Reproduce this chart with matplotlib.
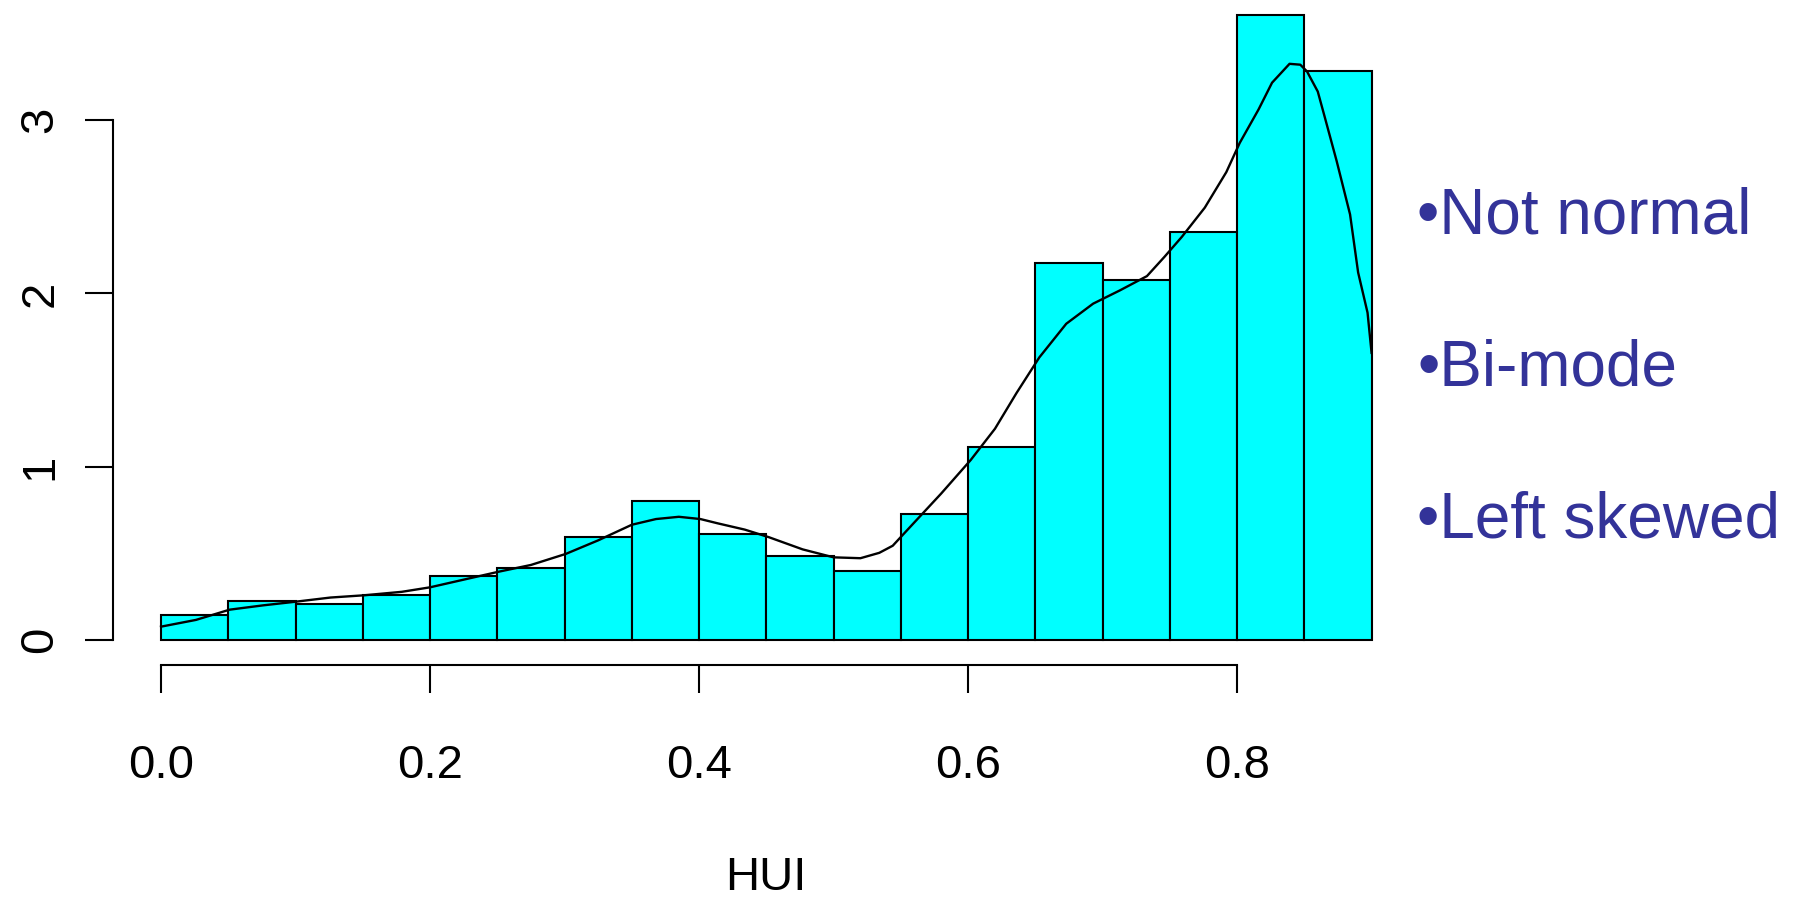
import numpy as np
import matplotlib.pyplot as plt

plt.rcParams['font.family'] = ['Liberation Sans', 'DejaVu Sans']

# histogram of HUI scores (density scale), bins of width 0.05
bin_edges = np.round(np.arange(0.0, 0.90001, 0.05), 2)
bin_density = [0.142, 0.224, 0.209, 0.260, 0.369, 0.415, 0.593, 0.800, 0.611,
               0.482, 0.400, 0.729, 1.116, 2.178, 2.075, 2.353, 3.608, 3.281]

# kernel density estimate laid over the bars
dens_x = [0.000, 0.026, 0.051, 0.076, 0.099, 0.126, 0.151, 0.179, 0.200, 0.226,
          0.251, 0.275, 0.301, 0.325, 0.350, 0.368, 0.385, 0.401, 0.414, 0.434,
          0.452, 0.477, 0.500, 0.520, 0.534, 0.544, 0.560, 0.580, 0.602, 0.620,
          0.636, 0.653, 0.673, 0.693, 0.713, 0.733, 0.746, 0.759, 0.776, 0.792,
          0.802, 0.816, 0.826, 0.839, 0.847, 0.852, 0.860, 0.865, 0.874, 0.884,
          0.890, 0.897, 0.900]
dens_y = [0.077, 0.116, 0.175, 0.200, 0.220, 0.245, 0.258, 0.278, 0.304, 0.350,
          0.394, 0.433, 0.497, 0.575, 0.665, 0.698, 0.711, 0.698, 0.673, 0.637,
          0.593, 0.523, 0.477, 0.472, 0.503, 0.544, 0.678, 0.845, 1.039, 1.219,
          1.425, 1.631, 1.825, 1.941, 2.018, 2.100, 2.211, 2.327, 2.495, 2.700,
          2.869, 3.062, 3.216, 3.325, 3.320, 3.281, 3.165, 3.023, 2.765, 2.456,
          2.121, 1.889, 1.657]

x_ticks = [0.0, 0.2, 0.4, 0.6, 0.8]
x_ticklabels = ['0.0', '0.2', '0.4', '0.6', '0.8']
y_ticks = [0, 1, 2, 3]
y_ticklabels = ['0', '1', '2', '3']
notes = ['\u2022Not normal', '\u2022Bi-mode', '\u2022Left skewed']

W, H = 1802, 897
fig = plt.figure(figsize=(W / 100, H / 100), dpi=100)

# plot region in pixels (R-style 4% padding around the data range)
left_px, right_px = 112.6, 1420.0
bottom_px, top_px = 665.0, -10.2
ax = fig.add_axes([left_px / W, (H - bottom_px) / H,
                   (right_px - left_px) / W, (bottom_px - top_px) / H])
ax.set_xlim(-0.036, 0.936)
ax.set_ylim(-0.1443, 3.7522)

ax.bar(bin_edges[:-1], bin_density, width=0.05, align='edge',
       color='#00FFFF', edgecolor='black', linewidth=1.5)
ax.plot(dens_x, dens_y, color='black', linewidth=1.7)

for side in ['top', 'right']:
    ax.spines[side].set_visible(False)
ax.spines['left'].set_bounds(0, 3)
ax.spines['bottom'].set_bounds(0, 0.8)
for side in ['left', 'bottom']:
    ax.spines[side].set_linewidth(1.5)

ax.set_xticks(x_ticks)
ax.set_xticklabels(x_ticklabels)
ax.set_yticks(y_ticks)
ax.set_yticklabels(y_ticklabels, rotation=90, va='center')
ax.tick_params(axis='x', length=20, width=1.5, pad=37, labelsize=34)
ax.tick_params(axis='y', length=20, width=1.5, pad=16, labelsize=34)
ax.set_xlabel('HUI', fontsize=34, labelpad=49)

for text, base in zip(notes, [233, 386, 538]):
    fig.text(1417 / W, (H - base) / H, text, fontsize=46, color='#333399',
             ha='left', va='baseline')

fig.savefig('out.png', dpi=100)
